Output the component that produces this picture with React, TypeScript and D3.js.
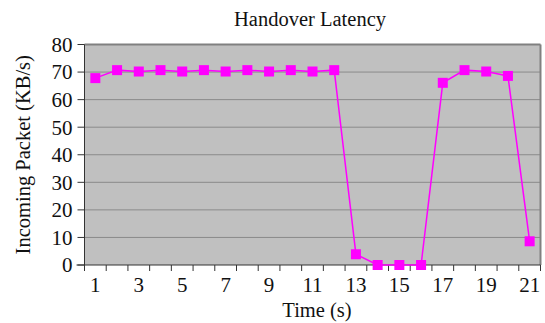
import React from "react";
import * as d3 from "d3";

const categories: number[] = d3.range(1, 22);
const values: number[] = [67.8, 70.7, 70.2, 70.7, 70.2, 70.7, 70.2, 70.7, 70.2, 70.7, 70.2, 70.7, 3.9, 0, 0, 0, 66.1, 70.7, 70.2, 68.6, 8.6];
const yTicks: number[] = [0, 10, 20, 30, 40, 50, 60, 70, 80];
const xTickLabels: number[] = [1, 3, 5, 7, 9, 11, 13, 15, 17, 19, 21];
const title = "Handover Latency";
const xTitle = "Time (s)";
const yTitle = "Incoming Packet (KB/s)";

const W = 545, H = 323;
const L = 84.5, R = 540.5, T = 44.5, B = 265;
const font = "'Liberation Serif', serif";

export default function App() {
  const x = d3.scaleBand<number>().domain(categories).range([L, R]);
  const y = d3.scaleLinear().domain([0, 80]).range([B, T]);
  const line = d3.line<number>()
    .x((_, i) => x(categories[i])! + x.bandwidth() / 2)
    .y((d) => y(d));
  const bounds = [...categories.map((c) => x(c)!), R];
  return (
    <svg width={W} height={H} style={{ position: "absolute", left: 0, top: 0, background: "#fff" }}>
      <rect x={L} y={T} width={R - L} height={B - T} fill="#c0c0c0" />
      {yTicks.filter((t) => t > 0 && t < 80).map((t) => (
        <line key={t} x1={L} x2={R} y1={y(t)} y2={y(t)} stroke="#8a8a8a" strokeWidth={1} />
      ))}
      <line x1={L} x2={R} y1={T} y2={T} stroke="#808080" strokeWidth={2} />
      <line x1={R} x2={R} y1={T} y2={B} stroke="#808080" strokeWidth={2} />
      <line x1={L} x2={L} y1={T} y2={B} stroke="#333" strokeWidth={1} />
      <line x1={L - 8} x2={R} y1={B} y2={B} stroke="#333" strokeWidth={1} />
      {yTicks.map((t) => (
        <g key={t}>
          <line x1={L - 7} x2={L} y1={y(t)} y2={y(t)} stroke="#333" />
          <text x={L - 12} y={y(t)} dy="0.35em" textAnchor="end" fontFamily={font} fontSize={21} fill="#111">{t}</text>
        </g>
      ))}
      {bounds.map((b, i) => (
        <line key={i} x1={b} x2={b} y1={B} y2={B + 6} stroke="#333" />
      ))}
      {xTickLabels.map((c) => (
        <text key={c} x={x(c)! + x.bandwidth() / 2} y={B + 27} textAnchor="middle" fontFamily={font} fontSize={21} fill="#111">{c}</text>
      ))}
      <path d={line(values)!} fill="none" stroke="#ff00ff" strokeWidth={1.5} />
      {values.map((v, i) => (
        <rect key={i} x={x(categories[i])! + x.bandwidth() / 2 - 5} y={y(v) - 5} width={10} height={10} fill="#ff00ff" />
      ))}
      <text x={310} y={26} textAnchor="middle" fontFamily={font} fontSize={20.5} fill="#111">{title}</text>
      <text x={317} y={317} textAnchor="middle" fontFamily={font} fontSize={20.5} fill="#111">{xTitle}</text>
      <text transform={`translate(30, ${(T + B) / 2}) rotate(-90)`} textAnchor="middle" fontFamily={font} fontSize={20.5} fill="#111">{yTitle}</text>
    </svg>
  );
}
